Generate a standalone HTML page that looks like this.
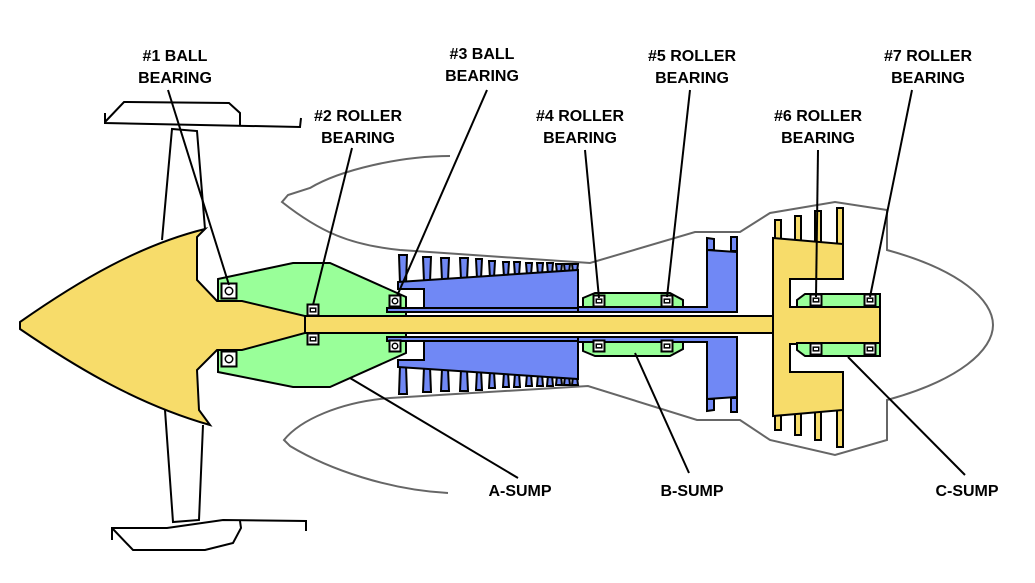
<!DOCTYPE html>
<html><head><meta charset="utf-8"><style>
html,body{margin:0;padding:0;background:#fff;}
svg{display:block;}
text{font-family:"Liberation Sans",Arial,sans-serif;font-weight:bold;font-size:16px;fill:#000;text-anchor:middle;}
</style></head><body>
<svg width="1035" height="583" viewBox="0 0 1035 583">
<g fill="none" stroke="#000" stroke-width="2">
 <polyline points="105,113 105,123 300,127 301,118"/>
 <polyline points="105,122 124,102 229,103 240,113 240,126"/>
 <polyline points="112,540 112,528 167,528 223,520 306,521 306,531"/>
 <polyline points="112,528 133,550 205,550 233,543 241,528 240,521"/>
</g>
<g fill="none" stroke="#000" stroke-width="2">
 <polyline points="162,240 172,129 197,131 205,229"/>
 <polyline points="165,410 173,522 199,520 203,425"/>
</g>
<g fill="none" stroke="#666" stroke-width="2">
 <path d="M450,156 C400,156 340,170 310,188 L288,195 L282,202 C320,232 350,245 400,250 L590,263 L695,232 L740,232 L770,213 L835,202 L887,210 L887,250 C960,270 993,300 993,325 C993,350 960,380 887,400 L887,440 L835,455 L770,440 L740,420 L697,420 L588,386 L390,398 C340,402 300,420 284,440 L290,446 C330,470 390,490 448,493"/>
</g>
<g>
 <polygon points="218,279 293,263 330,263 406,297 406,353 330,387 293,387 218,372" fill="#99ff99" stroke="#000" stroke-width="2"/>
</g>
<g fill="#7088f5" stroke="#000" stroke-width="2">
 <g id="blades"></g>
 <polygon points="398,282 578,270 578,308 424,308 424,289 398,289"/>
 <polygon points="398,367 578,379 578,341 424,341 424,360 398,360"/>
 <rect x="387" y="308" width="193" height="4"/>
 <rect x="387" y="337" width="193" height="4"/>
</g>
<g>
 <polygon points="583,298 595,293 670,293 683,300 683,308 583,308" fill="#99ff99" stroke="#000" stroke-width="2"/>
 <polygon points="583,351 595,356 670,356 683,349 683,341 583,341" fill="#99ff99" stroke="#000" stroke-width="2"/>
</g>
<g fill="#7088f5" stroke="#000" stroke-width="2">
 <polygon points="578,307 707,307 707,250 737,252 737,312 578,312"/>
 <polygon points="578,342 707,342 707,399 737,397 737,337 578,337"/>
 <polygon points="707,238 714,239 714,250 707,250"/><polygon points="731,237 737,237 737,251 731,251"/>
 <polygon points="707,411 714,410 714,399 707,399"/><polygon points="731,412 737,412 737,398 731,398"/>
</g>
<g fill="#f7dc6a" stroke="#000" stroke-width="2">
 <rect x="300" y="316" width="480" height="17"/>
 <path d="M20,322 C80,280 140,245 205,229 L197,237 L197,280 L217,301 L242,301 L305,316 L305,333 L242,350 L217,350 L197,370 L199,410 L210,425 C140,405 80,370 20,329 Z"/>
 <g id="lpt-blades"></g>
 <polygon points="773,238 843,244 843,279 790,279 790,307 880,307 880,344 790,344 790,372 843,372 843,410 773,416"/>
</g>
<g>
 <polygon points="797,300 805,294 880,294 880,307 797,307" fill="#99ff99" stroke="#000" stroke-width="2"/>
 <polygon points="797,350 805,356 880,356 880,343 797,343" fill="#99ff99" stroke="#000" stroke-width="2"/>
</g>
<g id="bearings"></g>
<g stroke="#000" stroke-width="2">
 <line x1="168" y1="90" x2="229" y2="285"/>
 <line x1="352" y1="148" x2="313" y2="305"/>
 <line x1="487" y1="90" x2="397" y2="296"/>
 <line x1="585" y1="150" x2="599" y2="298"/>
 <line x1="690" y1="90" x2="667" y2="297"/>
 <line x1="818" y1="150" x2="816" y2="297"/>
 <line x1="912" y1="90" x2="870" y2="297"/>
 <line x1="350" y1="378" x2="518" y2="478"/>
 <line x1="635" y1="353" x2="689" y2="473"/>
 <line x1="848" y1="357" x2="965" y2="475"/>
</g>
<g>
 <text x="175" y="61">#1 BALL<tspan x="175" dy="22">BEARING</tspan></text>
 <text x="358" y="121">#2 ROLLER<tspan x="358" dy="22">BEARING</tspan></text>
 <text x="482" y="59">#3 BALL<tspan x="482" dy="22">BEARING</tspan></text>
 <text x="580" y="121">#4 ROLLER<tspan x="580" dy="22">BEARING</tspan></text>
 <text x="692" y="61">#5 ROLLER<tspan x="692" dy="22">BEARING</tspan></text>
 <text x="818" y="121">#6 ROLLER<tspan x="818" dy="22">BEARING</tspan></text>
 <text x="928" y="61">#7 ROLLER<tspan x="928" dy="22">BEARING</tspan></text>
 <text x="520" y="496">A-SUMP</text>
 <text x="692" y="496">B-SUMP</text>
 <text x="967" y="496">C-SUMP</text>
</g>
</svg>
<script>
const NS='http://www.w3.org/2000/svg';
const bladeX=[403,427,445,464,479,492,506,517,529,540,550,559,567,575];
const bladeTop=[255,257,258,258,259,261,262,262,263,263,263,264,264,264];
const lptX=[778,798,818,840];
const lptTop=[220,216,211,208];
const lptBottom=[430,435,440,447];
const bearingX=[229,313,395,599,667,816,870];
const bearingType=['ball','roller','ball','roller','roller','roller','roller'];
const bearingUpperY=[291,310,301,301,301,300,300];
const bearingLowerY=[359,339,346,346,346,349,349];
const CY=324.5;
function drumTop(x){return 282+(x-398)*(270-282)/(578-398);}
const bg=document.getElementById('blades');
bladeX.forEach((x,i)=>{
  [1,-1].forEach(s=>{
    const p=document.createElementNS(NS,'polygon');
    const t=bladeTop[i], b=drumTop(x)+2;
    const w=i<4?4:3;
    const pts=[[x-w,t],[x+w,t],[x+w-1,b],[x-w+1,b]].map(q=>q[0]+','+(s>0?q[1]:2*CY-q[1])).join(' ');
    p.setAttribute('points',pts);
    
    
    bg.appendChild(p);
  });
});
const lg=document.getElementById('lpt-blades');
lptX.forEach((x,i)=>{
  const topBase=240+(x-773)*6/70;
  const botBase=414-(x-773)*6/70;
  [[lptTop[i],topBase],[botBase,lptBottom[i]]].forEach(r=>{
    const p=document.createElementNS(NS,'rect');
    p.setAttribute('x',x-3);p.setAttribute('y',r[0]);
    p.setAttribute('width',6);p.setAttribute('height',r[1]-r[0]);
    
    
    lg.appendChild(p);
  });
});
const brg=document.getElementById('bearings');
bearingX.forEach((x,i)=>{
  [bearingUpperY[i],bearingLowerY[i]].forEach(y=>{
    const g=document.createElementNS(NS,'g');
    
    
    const s=i===0?15:11;
    const r=document.createElementNS(NS,'rect');
    r.setAttribute('x',x-s/2);r.setAttribute('y',y-s/2);r.setAttribute('width',s);r.setAttribute('height',s);
    r.setAttribute('fill','#fff');r.setAttribute('stroke','#000');r.setAttribute('stroke-width','2');
    g.appendChild(r);
    if(bearingType[i]==='ball'){
      const c=document.createElementNS(NS,'circle');
      c.setAttribute('cx',x);c.setAttribute('cy',y);c.setAttribute('r',s/4);
      c.setAttribute('fill','#fff');c.setAttribute('stroke','#000');c.setAttribute('stroke-width','1.5');
      g.appendChild(c);
    } else {
      const c=document.createElementNS(NS,'rect');
      c.setAttribute('x',x-s/4);c.setAttribute('y',y-s/6);c.setAttribute('width',s/2);c.setAttribute('height',s/3);
      c.setAttribute('fill','#fff');c.setAttribute('stroke','#000');c.setAttribute('stroke-width','1.5');
      g.appendChild(c);
    }
    brg.appendChild(g);
  });
});
</script>
</body></html>
